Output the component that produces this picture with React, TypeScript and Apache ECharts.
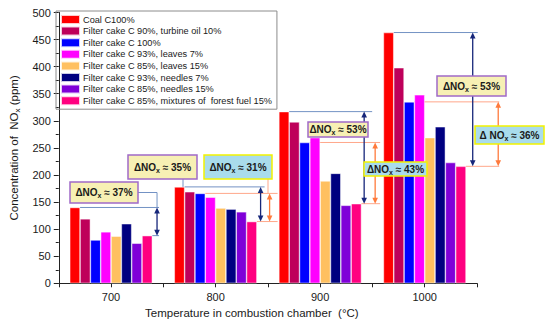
import React, { useEffect, useRef } from "react";
import * as echarts from "echarts";

const categories = ["700", "800", "900", "1000"];
const seriesNames = [
  "Coal C100%",
  "Filter cake C 90%, turbine oil 10%",
  "Filter cake C 100%",
  "Filter cake C 93%, leaves 7%",
  "Filter cake C 85%, leaves 15%",
  "Filter cake C 93%, needles 7%",
  "Filter cake C 85%, needles 15%",
  "Filter cake C 85%, mixtures of  forest fuel 15%",
];
const coal = [140, 178, 317, 463];
const turbineOil = [119, 169, 298, 398];
const filterCake = [80, 166, 260, 335];
const leaves7 = [95, 159, 269, 348];
const leaves15 = [87, 139, 189, 269];
const needles7 = [110, 137, 203, 289];
const needles15 = [74, 132, 144, 223];
const forestFuel = [88, 114, 147, 216];
const colors = ["#ff0000", "#be005a", "#0000ff", "#ff00ff", "#ffc060", "#000080", "#7f00d8", "#ff0080"];

// percentage labels
const deltaCoal = ["37%", "35%", "53%", "53%"];
const deltaFilter = ["", "31%", "43%", "36%"];

const FONT = "'Liberation Sans', Arial, sans-serif";
const STEEL = "#7392c4";
const NAVY = "#16267a";
const ORANGE = "#ff7a3c";
const ORANGE_LIGHT = "#ffa78a";
const YEL_FILL = "#f7f0b4";
const PURPLE = "#a06ac8";
const BLUE_FILL = "#a9dcec";
const YEL_BORDER = "#f2f200";

// annotation layout (pixel offsets from category centre)
const annotLayout = [
  { navyX: 46, navyEnd: 48, orangeX: 0, orangeEnd: 0 },
  { navyX: 45, navyEnd: 49, orangeX: 54, orangeEnd: 62 },
  { navyX: 44, navyEnd: 52, orangeX: 55, orangeEnd: 60 },
  { navyX: 48, navyEnd: 53, orangeX: 73.5, orangeEnd: 74.5 },
];

// label boxes (pixel layout)
const boxes = [
  { cat: 0, kind: "navy", x: 70, y: 182, w: 68, h: 21, leader: "side", gap: false },
  { cat: 1, kind: "navy", x: 128, y: 155, w: 69, h: 24, leader: "down", lx: 183, gap: false },
  { cat: 1, kind: "orange", x: 204, y: 155, w: 68, h: 24, leader: "down", lx: 268, gap: false },
  { cat: 2, kind: "navy", x: 308, y: 122, w: 60, h: 15, leader: "", gap: false },
  { cat: 2, kind: "orange", x: 364, y: 162, w: 63, h: 14, leader: "", gap: false },
  { cat: 3, kind: "navy", x: 437, y: 76, w: 69, h: 20, leader: "", gap: false },
  { cat: 3, kind: "orange", x: 475, y: 126, w: 69, h: 18, leader: "", gap: true },
];

const allData = [coal, turbineOil, filterCake, leaves7, leaves15, needles7, needles15, forestFuel];
const GROUP = 0.79;

function geom(api: any, idx: number) {
  const c = api.coord([idx, 0]);
  const band = api.size([1, 0])[0];
  const barW = (band * GROUP) / 8;
  const left = c[0] - (band * GROUP) / 2;
  return { cx: c[0], barW, left, Y: (v: number) => api.coord([idx, v])[1] };
}

function arrow(x: number, yTop: number, yBot: number, color: string) {
  const hl = 6;
  const hw = 2.8;
  return [
    { type: "line", shape: { x1: x, y1: yTop + hl - 1, x2: x, y2: yBot - hl + 1 }, style: { stroke: color, lineWidth: 1.3 } },
    { type: "polygon", shape: { points: [[x, yTop], [x - hw, yTop + hl], [x + hw, yTop + hl]] }, style: { fill: color } },
    { type: "polygon", shape: { points: [[x, yBot], [x - hw, yBot - hl], [x + hw, yBot - hl]] }, style: { fill: color } },
  ];
}

export default function App() {
  const ref = useRef<HTMLDivElement>(null);
  useEffect(() => {
    const chart = echarts.init(ref.current!, null, { renderer: "svg" });

    const barSeries = seriesNames.map((name, i) => ({
      name,
      type: "bar",
      xAxisIndex: 0,
      data: allData[i],
      barGap: "0%",
      barCategoryGap: "21%",
      z: 2,
      itemStyle: { color: colors[i], borderColor: "rgba(255,255,255,0.8)", borderWidth: 0.6 },
    }));

    const linesSeries = {
      type: "custom",
      name: "lines",
      xAxisIndex: 0,
      z: 1,
      silent: true,
      data: categories.map((_, i) => [i]),
      encode: { x: 0 },
      renderItem: (params: any, api: any) => {
        const idx = params.dataIndex;
        const g = geom(api, idx);
        const L = annotLayout[idx];
        const ch: any[] = [];
        const yc = g.Y(coal[idx]);
        const yf = g.Y(forestFuel[idx]);
        ch.push({ type: "line", shape: { x1: g.left + g.barW, y1: yc, x2: g.cx + L.navyEnd, y2: yc }, style: { stroke: STEEL, lineWidth: 1 } });
        if (L.orangeX) {
          const yo = g.Y(filterCake[idx]);
          ch.push({ type: "line", shape: { x1: g.left + 3 * g.barW, y1: yo, x2: g.cx + L.orangeEnd, y2: yo }, style: { stroke: ORANGE_LIGHT, lineWidth: 1 } });
          ch.push({ type: "line", shape: { x1: g.left + 8 * g.barW, y1: yf, x2: g.cx + L.orangeEnd, y2: yf }, style: { stroke: ORANGE_LIGHT, lineWidth: 1 } });
        } else {
          ch.push({ type: "line", shape: { x1: g.left + 8 * g.barW, y1: yf, x2: g.cx + L.navyEnd, y2: yf }, style: { stroke: STEEL, lineWidth: 1 } });
        }
        return { type: "group", children: ch };
      },
    };

    const arrowsSeries = {
      type: "custom",
      name: "arrows",
      xAxisIndex: 0,
      z: 3,
      silent: true,
      data: categories.map((_, i) => [i]),
      encode: { x: 0 },
      renderItem: (params: any, api: any) => {
        const idx = params.dataIndex;
        const g = geom(api, idx);
        const L = annotLayout[idx];
        let ch: any[] = [];
        const yc = g.Y(coal[idx]);
        const yf = g.Y(forestFuel[idx]);
        ch = ch.concat(arrow(g.cx + L.navyX, yc, yf, NAVY));
        if (L.orangeX) {
          ch = ch.concat(arrow(g.cx + L.orangeX, g.Y(filterCake[idx]), yf, ORANGE));
        }
        return { type: "group", children: ch };
      },
    };

    const boxesSeries = {
      type: "custom",
      name: "boxes",
      xAxisIndex: 0,
      z: 4,
      silent: true,
      data: boxes.map((b) => [b.cat]),
      encode: { x: 0 },
      renderItem: (params: any, api: any) => {
        const b = boxes[params.dataIndex];
        const g = geom(api, b.cat);
        const L = annotLayout[b.cat];
        const ch: any[] = [];
        const isNavy = b.kind === "navy";
        const pct = isNavy ? deltaCoal[b.cat] : deltaFilter[b.cat];
        if (b.leader === "side") {
          const ym = b.y + b.h / 2;
          const ax = g.cx + L.navyX;
          ch.push({ type: "polyline", shape: { points: [[b.x + b.w, ym], [ax, ym], [ax, g.Y(coal[b.cat])]] }, style: { stroke: STEEL, lineWidth: 1, fill: "none" } });
        } else if (b.leader === "down") {
          const yv = isNavy ? g.Y(coal[b.cat]) : g.Y(filterCake[b.cat]);
          ch.push({ type: "line", shape: { x1: b.lx, y1: b.y + b.h, x2: b.lx, y2: yv }, style: { stroke: isNavy ? STEEL : ORANGE_LIGHT, lineWidth: 1 } });
        }
        ch.push({
          type: "rect",
          shape: { x: b.x, y: b.y, width: b.w, height: b.h },
          style: { fill: isNavy ? YEL_FILL : BLUE_FILL, stroke: isNavy ? PURPLE : YEL_BORDER, lineWidth: 1.5 },
        });
        ch.push({
          type: "text",
          style: {
            x: b.x + b.w / 2,
            y: b.y + b.h / 2,
            align: "center",
            verticalAlign: "middle",
            text: `{a|Δ${b.gap ? " " : ""}NO}{s|x}{a| ≈ ${pct}}`,
            rich: {
              a: { fontSize: 10, fontWeight: "bold", fontFamily: FONT, fill: "#1a1a1a", color: "#1a1a1a" },
              s: { fontSize: 7, fontWeight: "bold", fontFamily: FONT, fill: "#1a1a1a", color: "#1a1a1a", padding: [6, 0, 0, 0] },
            },
          },
        });
        return { type: "group", children: ch };
      },
    };

    chart.setOption({
      animation: false,
      backgroundColor: "#ffffff",
      textStyle: { fontFamily: FONT },
      grid: { left: 52, right: 73, top: 12.5, bottom: 42.7, containLabel: false },
      legend: {
        data: seriesNames,
        orient: "vertical",
        left: 56,
        top: 11,
        padding: [3, 5, 3, 4],
        itemWidth: 19,
        itemHeight: 9,
        itemGap: 0.6,
        icon: "rect",
        borderColor: "#8c8c8c",
        borderWidth: 1,
        selectedMode: false,
        textStyle: { fontSize: 9.2, lineHeight: 10, color: "#1a1a1a", fontFamily: FONT, padding: [0, 0, 0, -2] },
      },
      xAxis: [
        {
          type: "category",
          data: categories,
          name: "Temperature in combustion chamber  (°C)",
          nameLocation: "middle",
          nameGap: 23,
          nameTextStyle: { fontSize: 11.5, color: "#1a1a1a", fontFamily: FONT, padding: [0, 32, 0, 0] },
          axisLine: { lineStyle: { color: "#222", width: 1 } },
          axisTick: { show: true, length: 4, inside: false, lineStyle: { color: "#222" } },
          axisLabel: { fontSize: 11, color: "#1a1a1a", margin: 8, fontFamily: FONT },
          splitLine: { show: false },
        },
        {
          type: "category",
          data: categories,
          position: "bottom",
          axisLine: { show: false },
          axisTick: { show: true, alignWithLabel: true, length: 4, lineStyle: { color: "#222" } },
          axisLabel: { show: false },
          splitLine: { show: false },
        },
      ],
      yAxis: {
        type: "value",
        min: 0,
        max: 500,
        interval: 50,
        name: "{a|Concentration of  NO}{s|x}{a| (ppm)}",
        nameLocation: "middle",
        nameGap: 34,
        nameRotate: 90,
        nameTextStyle: {
          rich: {
            a: { fontSize: 11.5, color: "#1a1a1a", fontFamily: FONT },
            s: { fontSize: 8, color: "#1a1a1a", fontFamily: FONT, padding: [7, 0, 0, 0] },
          },
        },
        axisLine: { show: true, lineStyle: { color: "#222", width: 1 } },
        axisTick: { show: true, length: 5, lineStyle: { color: "#222" } },
        minorTick: { show: true, splitNumber: 2, length: 3, lineStyle: { color: "#222" } },
        axisLabel: { fontSize: 11, color: "#1a1a1a", margin: 8, fontFamily: FONT },
        splitLine: { show: false },
      },
      series: [linesSeries, ...barSeries, arrowsSeries, boxesSeries],
    });

    return () => chart.dispose();
  }, []);
  return <div ref={ref} style={{ position: "absolute", left: 0, top: 0, width: 550, height: 326 }} />;
}
